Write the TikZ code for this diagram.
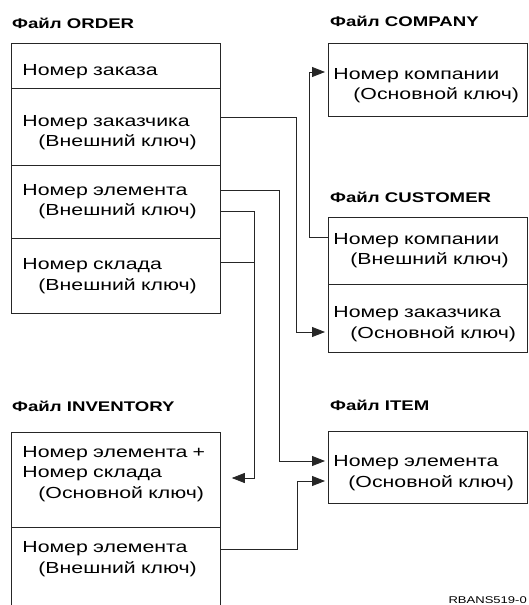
\documentclass[tikz,border=0pt]{standalone}
\usepackage{fontspec}
\setmainfont[FakeStretch=1.33]{Liberation Sans}
\usetikzlibrary{positioning,arrows.meta,calc}

\begin{document}
\begin{tikzpicture}[x=1pt, y=-1pt, >={Triangle[length=13pt,width=10pt]},
    rowbox/.style={draw=black!85, line width=0.8pt, anchor=north west, align=left,
        inner ysep=0pt, font=\fontsize{16}{20.5}\selectfont},
    leftbox/.style={rowbox, text width=187pt, inner xsep=11pt},
    rightbox/.style={rowbox, text width=189pt, inner xsep=5pt},
    lowtext/.style={text height=23pt},
    title/.style={anchor=base west, inner sep=0pt, font=\fontsize{14}{16}\selectfont\bfseries},
    link/.style={draw=black!85, line width=0.8pt}]
    \useasboundingbox (0,0) rectangle (528,605);
    \clip (0,0) rectangle (528,605);

    % títulos dos arquivos
    \node[title] (tOrder) at (12,28) {Файл ORDER};
    \node[title] (tCompany) at (330,27) {Файл COMPANY};
    \node[title] (tCustomer) at (330,202) {Файл CUSTOMER};
    \node[title] (tInventory) at (12,411) {Файл INVENTORY};
    \node[title] (tItem) at (330,410) {Файл ITEM};

    % arquivo ORDER
    \node[leftbox, minimum height=45pt, lowtext] (ordA) at (11,43) {Номер заказа};
    \node[leftbox, minimum height=77pt, lowtext] (ordB) at (11,88)
        {Номер заказчика\\\hspace*{16pt}(Внешний ключ)};
    \node[leftbox, minimum height=73pt] (ordC) at (11,165)
        {Номер элемента\\\hspace*{16pt}(Внешний ключ)};
    \node[leftbox, minimum height=75pt] (ordD) at (11,238)
        {Номер склада\\\hspace*{16pt}(Внешний ключ)};

    % arquivos COMPANY, CUSTOMER e ITEM
    \node[rightbox, minimum height=73pt, lowtext] (compA) at (328,43)
        {Номер компании\\\hspace*{20pt}(Основной ключ)};
    \node[rightbox, minimum height=67pt] (custA) at (328,217)
        {Номер компании\\\hspace*{17pt}(Внешний ключ)};
    \node[rightbox, minimum height=68pt, lowtext] (custB) at (328,284)
        {Номер заказчика\\\hspace*{17pt}(Основной ключ)};
    \node[rightbox, minimum height=72pt, lowtext] (itemA) at (328,431)
        {Номер элемента\\\hspace*{15pt}(Основной ключ)};

    % arquivo INVENTORY (cortado embaixo)
    \node[leftbox, minimum height=95pt, text depth=56pt] (invA) at (11,432)
        {Номер~элемента~+\\Номер склада\\\hspace*{16pt}(Основной ключ)};
    \node[leftbox, minimum height=100pt, text depth=60pt] (invB) at (11,527)
        {Номер элемента\\\hspace*{16pt}(Внешний ключ)};

    % ligações entre chaves
    \draw[link, ->, shorten >=3pt] ($(ordB.north east)+(0,29)$) -| ($(custB.north west)+(-32,48)$)
        -- ($(custB.north west)+(0,48)$);
    \draw[link, ->, shorten >=3pt] ($(ordC.north east)+(0,25)$) -| ($(itemA.north west)+(-49,30)$)
        -- ($(itemA.north west)+(0,30)$);
    \draw[link, ->, shorten >=11pt] ($(ordC.north east)+(0,46)$) -| ($(invA.north east)+(34,46)$)
        -- ($(invA.north east)+(0,46)$);
    \draw[link] ($(ordD.north east)+(0,24)$) -- ($(ordD.north east)+(34,24)$);
    \draw[link, ->, shorten >=3pt] ($(invB.north east)+(0,22)$) -| ($(itemA.north west)+(-31,50)$)
        -- ($(itemA.north west)+(0,50)$);
    \draw[link, ->, shorten >=3pt] ($(custA.north west)+(0,20)$) -| ($(compA.north west)+(-19,29)$)
        -- ($(compA.north west)+(0,29)$);

    % código da figura
    \node[anchor=base east, inner sep=0pt, font=\fontsize{9.8}{11}\selectfont] (code) at (527,603) {RBANS519-0};
\end{tikzpicture}
\end{document}
